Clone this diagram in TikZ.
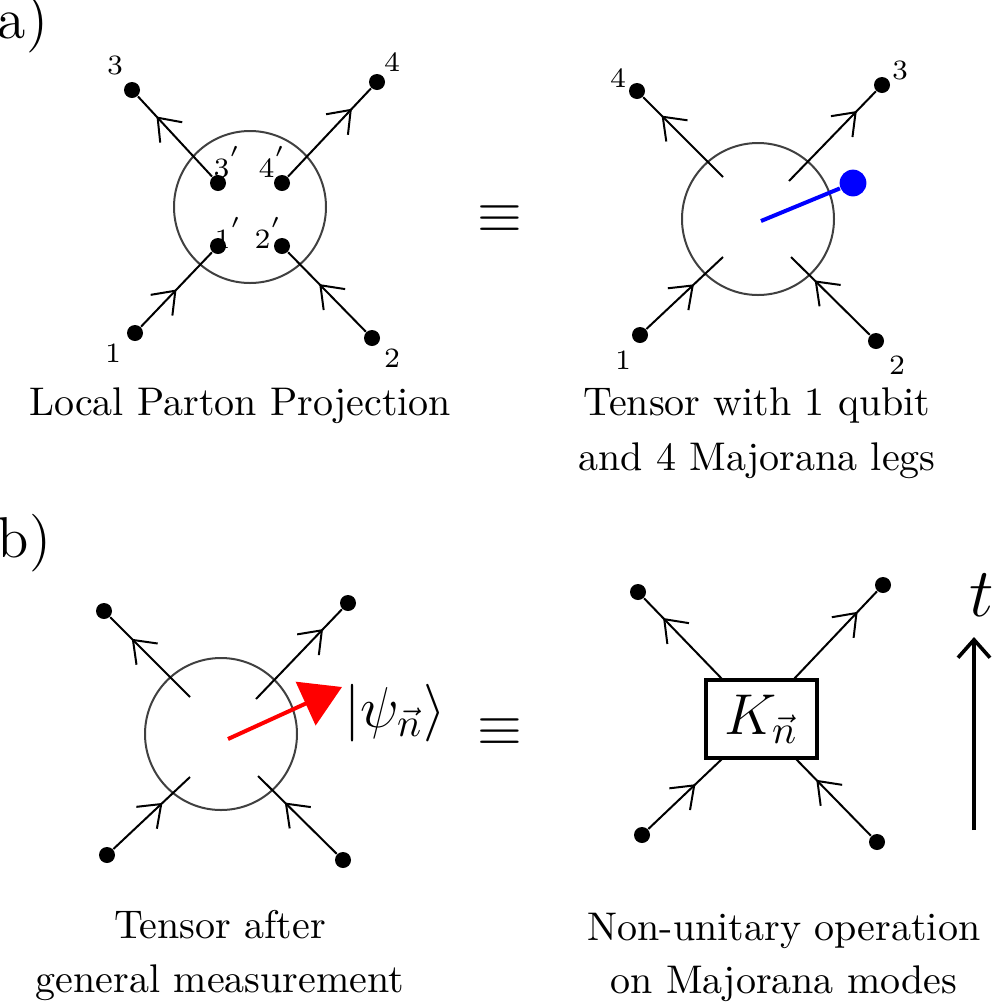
\documentclass[tikz,border=0pt]{standalone}
\usetikzlibrary{arrows.meta,decorations.markings}
\tikzset{
 dot/.style={circle,fill=black,inner sep=0pt,minimum size=4pt},
 leg/.style={line width=0.5pt},
 tensor/.style={circle,draw=black!75,line width=0.5pt,minimum size=38pt,inner sep=0pt},
 barb/.style={postaction={decorate},decoration={markings,mark=at position #1 with {\arrow{Straight Barb[length=5pt,width=7.5pt,line width=0.5pt]}}}},
 num/.style={font=\scriptsize,inner sep=0pt},
 caption/.style={align=center,inner sep=0pt,anchor=base},
 panel/.style={font=\Large,anchor=base west,inner sep=0pt},
}
\begin{document}
\begin{tikzpicture}[x=0.25pt,y=-0.25pt]
\useasboundingbox (0,0) rectangle (993,1007);
% panel labels
\node[panel] (la) at (-3,38) {a)};
\node[panel] (lb) at (-3,557) {b)};
% ---------- a) left
\node[tensor] (A) at (250,207) {};
\node[dot] (a1) at (135,333) {};
\node[dot] (a2) at (372,338) {};
\node[dot] (a3) at (132,90) {};
\node[dot] (a4) at (377,82) {};
\node[dot] (a1i) at (218,246) {};
\node[dot] (a2i) at (282,246) {};
\node[dot] (a3i) at (218,183) {};
\node[dot] (a4i) at (282,183) {};
\draw[leg,barb=0.5] (a1) -- (a1i);
\draw[leg,barb=0.6] (a2) -- (a2i);
\draw[leg,barb=0.75] (a3i) -- (a3);
\draw[leg,barb=0.77] (a4i) -- (a4);
\node[num] (na1) at (113,353) {1};
\node[num] (na2) at (392,358) {2};
\node[num] (na3) at (115,65) {3};
\node[num] (na4) at (392,62) {4};
\node[num] (na3i) at (228,162) {$3^{'}$};
\node[num] (na4i) at (273,162) {$4^{'}$};
\node[num] (na1i) at (229,233) {$1^{'}$};
\node[num] (na2i) at (269,233) {$2^{'}$};
\node[caption] (capA) at (240,415) {Local Parton Projection};
% equivalence
\node (eqa) at (500,219) {\Large$\equiv$};
% ---------- a) right
\node[tensor] (B) at (758,219) {};
\node[dot] (b1) at (640,335) {};
\node[dot] (b2) at (876,341) {};
\node[dot] (b3) at (882,85) {};
\node[dot] (b4) at (637,91) {};
\coordinate (b1i) at (723,257);
\coordinate (b2i) at (791,257);
\coordinate (b3i) at (789,181);
\coordinate (b4i) at (723,177);
\draw[leg,barb=0.62] (b1) -- (b1i);
\draw[leg,barb=0.7] (b2) -- (b2i);
\draw[leg,barb=0.78] (b3i) -- (b3);
\draw[leg,barb=0.77] (b4i) -- (b4);
\coordinate (Bc) at (761,221);
\node[circle,fill=blue,inner sep=0pt,minimum size=6.7pt] (qb) at (853,183) {};
\draw[blue,line width=1pt] (Bc) -- (qb);
\node[num] (nb1) at (623,360) {1};
\node[num] (nb2) at (897,365) {2};
\node[num] (nb3) at (900,70) {3};
\node[num] (nb4) at (618,78) {4};
\node[caption] (capB) at (757,470) {Tensor with 1 qubit\\[1.75pt] and 4 Majorana legs};
% ---------- b) left
\node[tensor] (C) at (221,734) {};
\node[dot] (c1) at (107,855) {};
\node[dot] (c2) at (343,860) {};
\node[dot] (c3) at (104,611) {};
\node[dot] (c4) at (348,603) {};
\coordinate (c1i) at (190,777);
\coordinate (c2i) at (258,776);
\coordinate (c3i) at (190,697);
\coordinate (c4i) at (256,699);
\draw[leg,barb=0.64] (c1) -- (c1i);
\draw[leg,barb=0.66] (c2) -- (c2i);
\draw[leg,barb=0.73] (c3i) -- (c3);
\draw[leg,barb=0.78] (c4i) -- (c4);
\coordinate (Cc) at (228,739);
\coordinate (Ctip) at (342,687);
\draw[red,line width=1pt,-{Triangle[length=10pt,width=11.8pt]}] (Cc) -- (Ctip);
\node (psi) at (395,713) {\Large $|\psi_{\vec n}\rangle$};
\node[caption] (capC) at (220,992) {Tensor after\\[1.5pt] general measurement};
\node (eqb) at (500,732) {\Large$\equiv$};
% ---------- b) right
\node[draw,line width=1pt,minimum width=27.75pt,minimum height=19.5pt,inner sep=0pt] (K) at (761,719) {\Large $K_{\vec n}$};
\node[dot] (d1) at (642,835) {};
\node[dot] (d2) at (877,842) {};
\node[dot] (d3) at (638,592) {};
\node[dot] (d4) at (883,585) {};
\coordinate (d1i) at (723,758);
\coordinate (d2i) at (795,758);
\coordinate (d3i) at (723,680);
\coordinate (d4i) at (793,680);
\draw[leg,barb=0.63] (d1) -- (d1i);
\draw[leg,barb=0.72] (d2) -- (d2i);
\draw[leg,barb=0.76] (d3i) -- (d3);
\draw[leg,barb=0.77] (d4i) -- (d4);
\node[caption] (capD) at (784,993) {Non-unitary operation\\[1.25pt] on Majorana modes};
% time arrow
\coordinate (tb) at (974,830);
\coordinate (tt) at (974,637);
\draw[line width=0.9pt,-{Straight Barb[length=4.5pt,width=8pt]}] (tb) -- (tt);
\node (t) at (982,595) {\LARGE $t$};
\end{tikzpicture}
\end{document}
